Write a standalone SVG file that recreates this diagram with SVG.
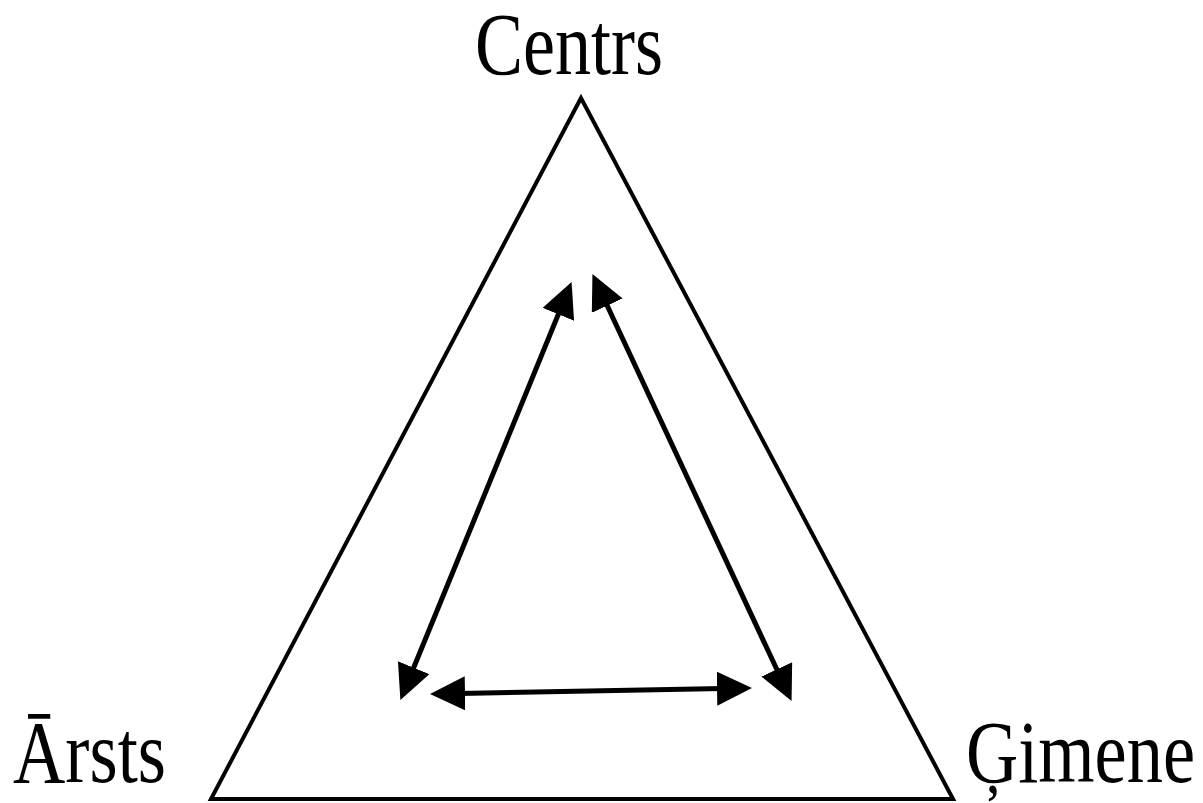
<svg xmlns="http://www.w3.org/2000/svg" width="1203" height="803" viewBox="0 0 1203 803">
<style>
.lbl{font-family:"Liberation Serif","Times New Roman",serif;font-size:88px;fill:#000}
.tri{fill:none;stroke:#000;stroke-width:4;stroke-linejoin:miter}
.con{stroke:#000;stroke-width:5;fill:none;marker-start:url(#ah);marker-end:url(#ah)}
</style>
<defs>
<marker id="ah" markerUnits="userSpaceOnUse" markerWidth="36" markerHeight="36" viewBox="0 0 36 36" refX="6" refY="17" orient="auto-start-reverse">
<path d="M0,0 L35,17 L0,34 z" fill="#000"/>
</marker>
</defs>
<rect width="1203" height="803" fill="#fff"/>
<g id="triangle"><polygon class="tri" points="581,98 211,799 953,799"/></g>
<g id="centrs"><text class="lbl" x="475" y="74" textLength="188" lengthAdjust="spacingAndGlyphs">Centrs</text></g>
<g id="arsts"><text class="lbl" x="13" y="782" textLength="153" lengthAdjust="spacingAndGlyphs">Ārsts</text></g>
<g id="gimene"><text class="lbl" x="966" y="782" textLength="229" lengthAdjust="spacingAndGlyphs">Ģimene</text></g>
<g id="connectors">
<line class="con" x1="411.4" y1="673.2" x2="560.6" y2="308.8"/>
<line class="con" x1="604.7" y1="300.2" x2="779.3" y2="674.8"/>
<line class="con" x1="459" y1="693.4" x2="723" y2="688.6"/>
</g>
</svg>
